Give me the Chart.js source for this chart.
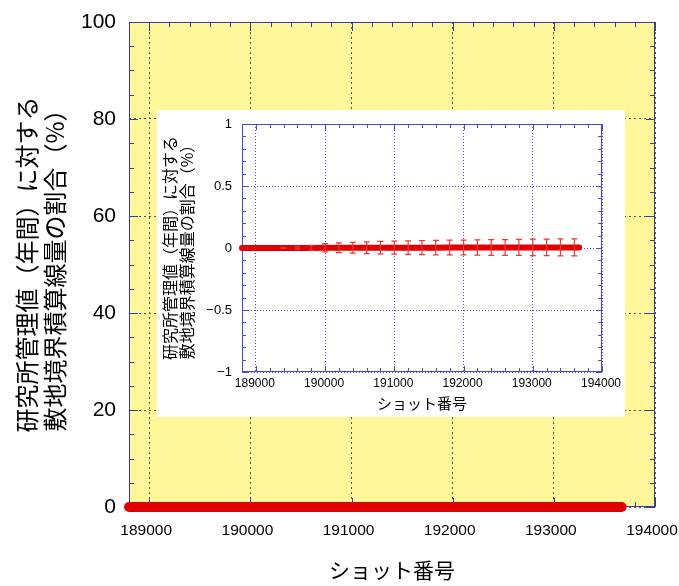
<!DOCTYPE html>
<html>
<head>
<meta charset="utf-8">
<script src="https://cdn.jsdelivr.net/npm/chart.js@4.4.0/dist/chart.umd.min.js"></script>
<style>
  html, body { margin: 0; padding: 0; background: #fff; }
  #wrap { position: relative; width: 679px; height: 586px; }
  #mainChart { position: absolute; left: 0; top: 0; }
  #insetChart { position: absolute; left: 157px; top: 110px; background: #fff; }
</style>
</head>
<body>
<div id="wrap">
  <canvas id="mainChart" width="679" height="586"></canvas>
  <canvas id="insetChart" width="468" height="307"></canvas>
</div>
<script>
// shot number vs ratio of boundary dose to yearly limit (%)
var shots = [188800, 189000, 189200, 189400, 189600, 189800, 190000, 190200, 190400, 190600,
             190800, 191000, 191200, 191400, 191600, 191800, 192000, 192200, 192400, 192600,
             192800, 193000, 193200, 193400, 193600, 193670];
var ratio = [0, 0, 0, 0.001, 0.001, 0.001, 0.002, 0.002, 0.002, 0.002,
             0.003, 0.003, 0.003, 0.003, 0.003, 0.004, 0.004, 0.004, 0.004, 0.004,
             0.005, 0.005, 0.005, 0.005, 0.005, 0.005];

// error bars (inset only)
var errShots = [189400, 189600, 189800, 190000, 190200, 190400, 190600, 190800, 191000, 191200, 191400,
                191600, 191800, 192000, 192200, 192400, 192600, 192800, 193000, 193200, 193400, 193600];
var errValues = [0.005, 0.01, 0.02, 0.034, 0.04, 0.044, 0.047, 0.05, 0.053, 0.055, 0.056,
                 0.058, 0.059, 0.06, 0.062, 0.063, 0.064, 0.065, 0.066, 0.067, 0.068, 0.069];

var xTicks = [189000, 190000, 191000, 192000, 193000, 194000];
var mainYTicks = [0, 20, 40, 60, 80, 100];
var insetYTicks = [-1, -0.5, 0, 0.5, 1];
var insetYLabels = ["\u22121", "\u22120.5", "0", "0.5", "1"];

var yTitle = ["研究所管理値（年間）に対する", "敷地境界積算線量の割合（%）"];
var xTitle = "ショット番号";

var cjkFont = "'Noto Sans CJK JP', sans-serif";
var numFont = "'Liberation Sans', Arial, sans-serif";

// plot background, blue frame and inner ticks on all four sides
function axesFrame(o) {
  return {
    id: 'axesFrame',
    beforeDraw: function(chart) {
      if (!o.fill) return;
      var a = chart.chartArea, ctx = chart.ctx;
      ctx.save();
      ctx.fillStyle = o.fill;
      ctx.fillRect(a.left, a.top, a.right - a.left, a.bottom - a.top);
      ctx.restore();
    },
    beforeDatasetsDraw: function(chart) {
      var a = chart.chartArea, ctx = chart.ctx;
      var xs = chart.scales.x, ys = chart.scales.y;
      ctx.save();
      ctx.strokeStyle = o.color;
      ctx.lineWidth = 1;
      ctx.strokeRect(a.left + 0.5, a.top + 0.5, a.right - a.left - 1, a.bottom - a.top - 1);
      ctx.beginPath();
      var n = Math.round((xs.max - xs.min) / o.xMinor);
      for (var i = 0; i <= n; i++) {
        var v = xs.min + i * o.xMinor;
        var len = Math.abs(v / o.xMajor - Math.round(v / o.xMajor)) < 1e-6 ? o.major : o.minor;
        var px = Math.round(xs.getPixelForValue(v)) + 0.5;
        ctx.moveTo(px, a.bottom); ctx.lineTo(px, a.bottom - len);
        ctx.moveTo(px, a.top); ctx.lineTo(px, a.top + len);
      }
      n = Math.round((ys.max - ys.min) / o.yMinor);
      for (var j = 0; j <= n; j++) {
        var w = ys.min + j * o.yMinor;
        var l2 = Math.abs(w / o.yMajor - Math.round(w / o.yMajor)) < 1e-6 ? o.major : o.minor;
        var py = Math.round(ys.getPixelForValue(w)) + 0.5;
        ctx.moveTo(a.left, py); ctx.lineTo(a.left + l2, py);
        ctx.moveTo(a.right, py); ctx.lineTo(a.right - l2, py);
      }
      ctx.stroke();
      ctx.restore();
    }
  };
}

var errorBars = {
  id: 'errorBars',
  afterDatasetsDraw: function(chart) {
    var xs = chart.scales.x, ys = chart.scales.y, ctx = chart.ctx;
    ctx.save();
    ctx.strokeStyle = '#e83838';
    ctx.lineWidth = 1.2;
    ctx.beginPath();
    for (var i = 0; i < errShots.length; i++) {
      var y0 = ratio[shots.indexOf(errShots[i])];
      var px = xs.getPixelForValue(errShots[i]);
      var top = ys.getPixelForValue(y0 + errValues[i]);
      var bot = ys.getPixelForValue(y0 - errValues[i]);
      ctx.moveTo(px, top); ctx.lineTo(px, bot);
      ctx.moveTo(px - 3, top); ctx.lineTo(px + 3, top);
      ctx.moveTo(px - 3, bot); ctx.lineTo(px + 3, bot);
    }
    ctx.stroke();
    ctx.restore();
  }
};

function lineData(width) {
  return {
    datasets: [{
      data: shots.map(function(x, i) { return { x: x, y: ratio[i] }; }),
      borderColor: '#e00000',
      borderWidth: width,
      borderCapStyle: 'round',
      borderJoinStyle: 'round',
      pointRadius: 0,
      tension: 0,
      clip: false
    }]
  };
}

var mainChart = new Chart(document.getElementById('mainChart'), {
  type: 'line',
  data: lineData(10),
  plugins: [axesFrame({ fill: '#fff799', color: '#3a3ab0', xMinor: 200, xMajor: 1000, yMinor: 5, yMajor: 20, major: 9, minor: 5 })],
  options: {
    responsive: false,
    animation: false,
    events: [],
    layout: { padding: { top: 22, right: 24, left: 0, bottom: 0 } },
    plugins: { legend: { display: false }, tooltip: { enabled: false } },
    scales: {
      x: {
        type: 'linear', min: 188800, max: 194000,
        afterBuildTicks: function(s) { s.ticks = xTicks.map(function(v) { return { value: v }; }); },
        afterFit: function(s) { s.height = 79; s.paddingLeft = 0; s.paddingRight = 0; },
        grid: { color: '#555', drawTicks: false },
        border: { display: false, dash: [2, 3] },
        ticks: { font: { family: numFont, size: 15.5 }, color: '#000', padding: 14, labelOffset: -3,
                 maxRotation: 0, autoSkip: false,
                 callback: function(v) { return String(v); } },
        title: { display: true, text: xTitle, color: '#000', font: { family: cjkFont, size: 21 }, padding: { top: 0, bottom: 3 } }
      },
      y: {
        type: 'linear', min: 0, max: 100,
        afterBuildTicks: function(s) { s.ticks = mainYTicks.map(function(v) { return { value: v }; }); },
        afterFit: function(s) { s.width = 129; s.paddingTop = 0; s.paddingBottom = 0; },
        grid: { color: '#555', drawTicks: false },
        border: { display: false, dash: [2, 3] },
        ticks: { font: { family: numFont, size: 21 }, color: '#000', padding: 13 },
        title: { display: true, text: yTitle, color: '#000', font: { family: cjkFont, size: 24, lineHeight: 28 / 24 }, padding: { top: 13, bottom: 0 } }
      }
    }
  }
});

var insetChart = new Chart(document.getElementById('insetChart'), {
  type: 'line',
  data: lineData(6),
  plugins: [axesFrame({ fill: null, color: '#4848e0', xMinor: 200, xMajor: 1000, yMinor: 0.1, yMajor: 0.5, major: 6, minor: 4 }), errorBars],
  options: {
    responsive: false,
    animation: false,
    events: [],
    layout: { padding: { top: 14, right: 23, left: 0, bottom: 0 } },
    plugins: { legend: { display: false }, tooltip: { enabled: false } },
    scales: {
      x: {
        type: 'linear', min: 188800, max: 194000,
        afterBuildTicks: function(s) { s.ticks = xTicks.map(function(v) { return { value: v }; }); },
        afterFit: function(s) { s.height = 45; s.paddingLeft = 0; s.paddingRight = 0; },
        grid: { color: '#5050e0', drawTicks: false },
        border: { display: false, dash: [1, 2] },
        ticks: { font: { family: numFont, size: 12 }, color: '#000', padding: 4, labelOffset: -1,
                 maxRotation: 0, autoSkip: false,
                 callback: function(v) { return String(v); } },
        title: { display: true, text: xTitle, color: '#000', font: { family: cjkFont, size: 15 }, padding: { top: 0, bottom: 5 } }
      },
      y: {
        type: 'linear', min: -1, max: 1,
        afterBuildTicks: function(s) { s.ticks = insetYTicks.map(function(v) { return { value: v }; }); },
        afterFit: function(s) { s.width = 85; s.paddingTop = 0; s.paddingBottom = 0; },
        grid: { color: '#5050e0', drawTicks: false },
        border: { display: false, dash: [1, 2] },
        ticks: { font: { family: numFont, size: 13 }, color: '#000', padding: 10,
                 callback: function(v) { return insetYLabels[insetYTicks.indexOf(v)]; } },
        title: { display: true, text: yTitle, color: '#000', font: { family: cjkFont, size: 16, lineHeight: 1.05 }, padding: { top: 5, bottom: 0 } }
      }
    }
  }
});
</script>
</body>
</html>
